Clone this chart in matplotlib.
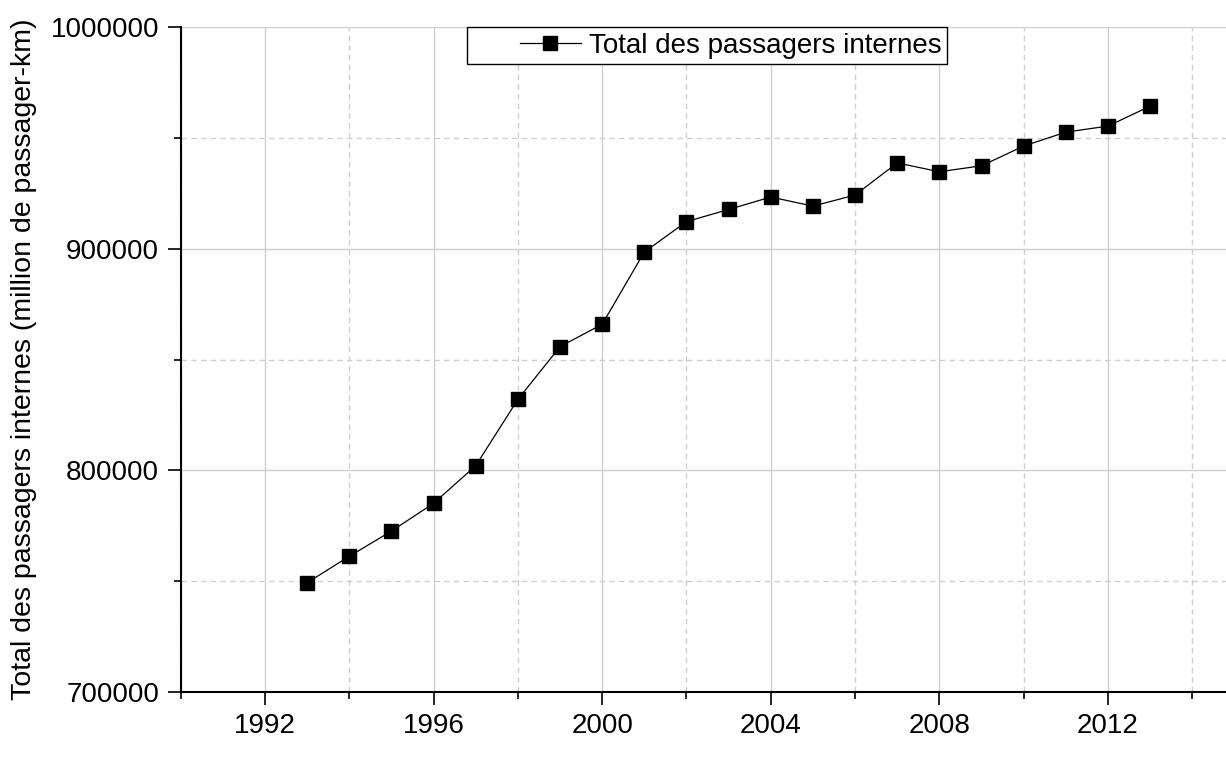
import numpy as np
import matplotlib.pyplot as plt
from matplotlib.ticker import MultipleLocator, StrMethodFormatter
from matplotlib.legend_handler import HandlerLine2D

plt.rcParams['font.family'] = ['Liberation Sans', 'DejaVu Sans']

# data
years = [1993, 1994, 1995, 1996, 1997, 1998, 1999, 2000, 2001, 2002, 2003,
         2004, 2005, 2006, 2007, 2008, 2009, 2010, 2011, 2012, 2013]
passengers = [749300, 761200, 772600, 785100, 802100, 832000, 855800,
              865900, 898500, 912200, 917700, 923300, 919200, 924200,
              938700, 934700, 937400, 946300, 952600, 955300, 964300]
series_label = 'Total des passagers internes'
y_label = 'Total des passagers internes (million de passager-km)'


class ShiftedLine(HandlerLine2D):
    # leave blank room left of the legend handle
    def __init__(self, offset, **kw):
        super().__init__(**kw)
        self.offset = offset

    def create_artists(self, legend, orig_handle, xdescent, ydescent,
                       width, height, fontsize, trans):
        return super().create_artists(legend, orig_handle,
                                      xdescent - self.offset, ydescent,
                                      width - self.offset, height,
                                      fontsize, trans)


fig = plt.figure(figsize=(12.26, 7.68), dpi=100)
ax = fig.add_axes([0.1474, 0.099, 0.8526, 0.8658])

line, = ax.plot(years, passengers, color='black', linewidth=0.9, marker='s',
                markersize=10, markerfacecolor='black',
                markeredgecolor='black', label=series_label, zorder=3)

ax.set_xlim(1990, 2014.8)
ax.set_ylim(700000, 1000000)
ax.xaxis.set_major_locator(MultipleLocator(4))
ax.xaxis.set_minor_locator(MultipleLocator(2))
ax.yaxis.set_major_locator(MultipleLocator(100000))
ax.yaxis.set_minor_locator(MultipleLocator(50000))
ax.yaxis.set_major_formatter(StrMethodFormatter('{x:.0f}'))

# grid: solid major, dashed minor
ax.grid(which='major', color='#cfcfcf', linestyle='-', linewidth=1.0)
ax.grid(which='minor', color='#cfcfcf', linestyle=(0, (4, 3)), linewidth=1.0)
ax.set_axisbelow(True)

for s in ['top', 'right']:
    ax.spines[s].set_visible(False)
for s in ['left', 'bottom']:
    ax.spines[s].set_linewidth(1.5)

ax.tick_params(which='major', direction='out', length=9.5, width=1.2,
               labelsize=20, pad=6)
ax.tick_params(which='minor', direction='out', length=5, width=1.2)

ax.set_ylabel(y_label, fontsize=20.5, labelpad=10)

leg = ax.legend(loc='upper center', bbox_to_anchor=(0.5035, 1.0),
                borderaxespad=0, fontsize=20, fancybox=False,
                edgecolor='black', framealpha=1, handlelength=3.9,
                borderpad=0.2, handletextpad=0.29,
                handler_map={line: ShiftedLine(34, numpoints=1)})
leg.get_frame().set_linewidth(1.0)

fig.savefig('out.png', dpi=100)
